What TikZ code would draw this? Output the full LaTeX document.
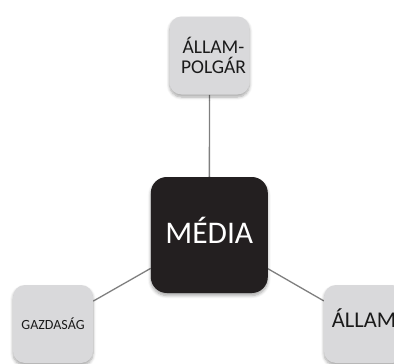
\documentclass[tikz,border=0pt]{standalone}
\usepackage{fontspec}
\setmainfont{Carlito}
\usetikzlibrary{shadows.blur,backgrounds}
\definecolor{boxgray}{HTML}{D9D9DB}
\definecolor{mediablack}{HTML}{231F20}
\definecolor{linegray}{HTML}{7F7F7F}
\definecolor{textdark}{HTML}{1A1A1A}
\begin{document}
\begin{tikzpicture}[x=1pt,y=-1pt,
  softshadow/.style={blur shadow={shadow xshift=0pt, shadow yshift=-2.5pt, shadow blur steps=6, shadow opacity=35, shadow blur radius=3pt}},
  lightbox/.style={draw=none, fill=boxgray, rounded corners=12pt, minimum width=80pt, minimum height=78pt, inner sep=0pt, text=textdark, softshadow},
  darkbox/.style={draw=none, fill=mediablack, rounded corners=16pt, minimum width=117pt, minimum height=116pt, inner sep=0pt, text=white, softshadow},
  link/.style={draw=linegray, line width=1.3pt}
]
\useasboundingbox (0,0) rectangle (394,364);
\clip (0,0) rectangle (394,364);
\node[darkbox, text height=16.6pt, text depth=0pt, font=\fontsize{31.5}{36}\selectfont] (media) at (209.3,235) {MÉDIA};
\node[lightbox, align=center, font=\fontsize{19.5}{20.7}\selectfont] (top) at (209.5,55.5) {\hspace*{8pt}ÁLLAM-\\\hspace*{8pt}POLGÁR};
\node[lightbox, text height=10pt, text depth=0pt, font=\fontsize{14}{16}\selectfont] (left) at (53,324) {GAZDASÁG};
\node[lightbox, text height=7.4pt, text depth=0pt, font=\fontsize{22.5}{26}\selectfont] (right) at (364,324) {ÁLLAM};
\begin{scope}[on background layer]
\draw[link] (media) -- (top);
\draw[link] (media) -- (left);
\draw[link] (media) -- (right);
\end{scope}
\end{tikzpicture}
\end{document}
